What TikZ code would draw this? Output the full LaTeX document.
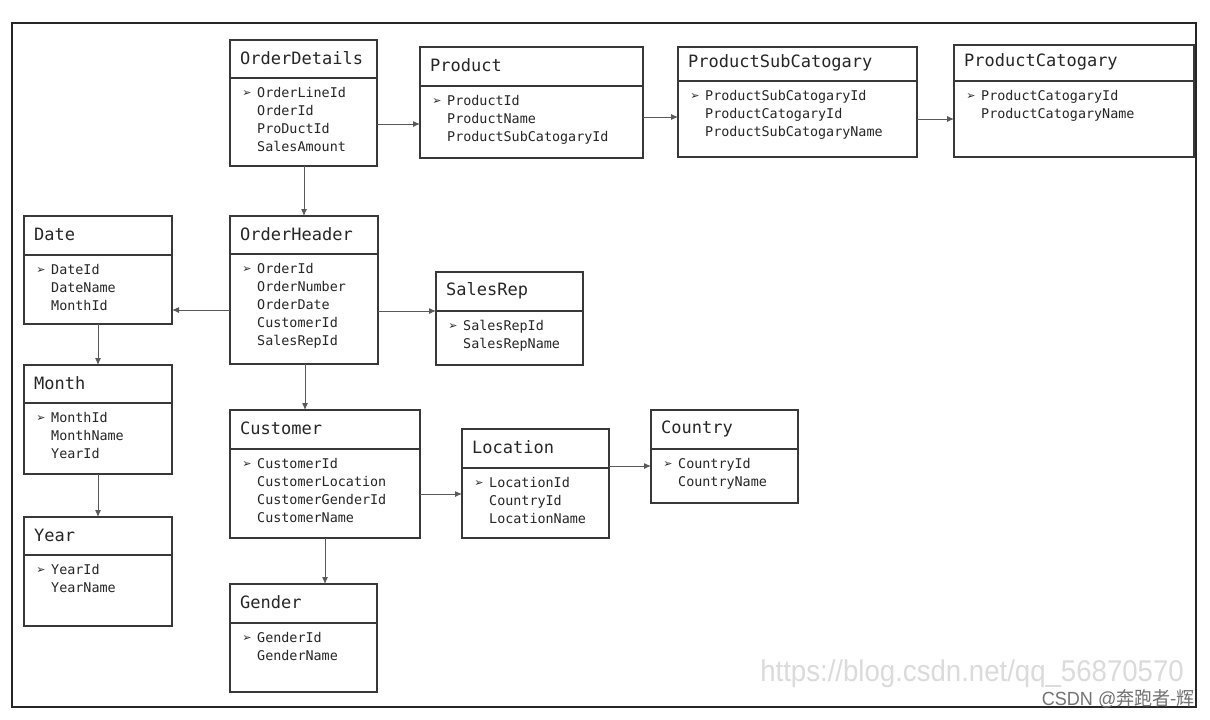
\documentclass[tikz,border=0pt]{standalone}
\usepackage{fontspec}
\setmonofont{DejaVu Sans Mono}
\setsansfont{Liberation Sans}
\newfontfamily\symfont{DejaVu Sans}
\newfontfamily\cjkfont{Noto Sans CJK SC}
\usetikzlibrary{arrows.meta}
\definecolor{linegray}{gray}{0.22}
\definecolor{textgray}{gray}{0.15}
\tikzset{
  tablebox/.style={draw=linegray, line width=1.4pt, inner sep=0pt, outer sep=0pt},
  divline/.style={draw=linegray, line width=1.4pt},
  titletext/.style={font=\ttfamily\fontsize{17}{20}\selectfont, text=textgray, anchor=west, inner sep=0pt},
  fieldtext/.style={font=\ttfamily\fontsize{13.4}{18}\selectfont, text=textgray, anchor=north west, inner sep=0pt, align=left},
  bullettext/.style={font=\symfont\fontsize{11}{12}\selectfont, text=textgray, inner sep=0pt},
  conn/.style={draw=black!65, line width=1pt, -{Latex[length=7pt,width=6pt]}},
  frame/.style={draw=black!85, line width=1.6pt}
}
% \erdtable{name}{x1}{y1}{x2}{y2}{ydiv}{title}{fields}
\newcommand\erdtable[8]{%
  \pgfmathsetmacro\tbW{#4-#2}%
  \pgfmathsetmacro\tbH{#5-#3}%
  \node[tablebox, minimum width=\tbW pt, minimum height=\tbH pt, anchor=north west] (#1) at (#2,#3) {};
  \draw[divline] (#2,#6) -- (#4,#6);
  \node[titletext] (#1-title) at ({#2+10},{(#3+#6)/2-1}) {#7};
  \node[bullettext] (#1-bul) at ({#2+17},{#6+16}) {➢};
  \node[fieldtext] (#1-fields) at ({#2+27},{#6+9.5}) {#8};
}
\begin{document}
\begin{tikzpicture}[x=1pt,y=-1pt]
\useasboundingbox (0,0) rectangle (1210,720);
\fill[white] (0,0) rectangle (1210,720);
\draw[frame] (12,23) rectangle (1196,707);

\erdtable{orderdetails}{230}{40}{377}{166}{78}{OrderDetails}{OrderLineId\\OrderId\\ProDuctId\\SalesAmount}
\erdtable{product}{420}{47}{643}{158}{86}{Product}{ProductId\\ProductName\\ProductSubCatogaryId}
\erdtable{productsub}{678}{47}{917}{157}{81}{ProductSubCatogary}{ProductSubCatogaryId\\ProductCatogaryId\\ProductSubCatogaryName}
\erdtable{productcat}{954}{45}{1194}{157}{81}{ProductCatogary}{ProductCatogaryId\\ProductCatogaryName}
\erdtable{date}{24}{216}{172}{324}{255}{Date}{DateId\\DateName\\MonthId}
\erdtable{orderheader}{230}{216}{378}{364}{254}{OrderHeader}{OrderId\\OrderNumber\\OrderDate\\CustomerId\\SalesRepId}
\erdtable{salesrep}{436}{272}{583}{365}{311}{SalesRep}{SalesRepId\\SalesRepName}
\erdtable{month}{24}{365}{172}{474}{403}{Month}{MonthId\\MonthName\\YearId}
\erdtable{customer}{230}{410}{420}{538}{449}{Customer}{CustomerId\\CustomerLocation\\CustomerGenderId\\CustomerName}
\erdtable{location}{462}{429}{609}{538}{468}{Location}{LocationId\\CountryId\\LocationName}
\erdtable{country}{651}{410}{798}{503}{449}{Country}{CountryId\\CountryName}
\erdtable{year}{24}{517}{172}{626}{555}{Year}{YearId\\YearName}
\erdtable{gender}{230}{584}{377}{692}{623}{Gender}{GenderId\\GenderName}

% connectors
\draw[conn] (orderdetails.south -| 304,0) -- (orderheader.north -| 304,0);
\draw[conn] (orderdetails.east |- 0,124) -- (product.west |- 0,124);
\draw[conn] (product.east |- 0,117) -- (productsub.west |- 0,117);
\draw[conn] (productsub.east |- 0,119) -- (productcat.west |- 0,119);
\draw[conn] (orderheader.west |- 0,310) -- (date.east |- 0,310);
\draw[conn] (orderheader.east |- 0,311) -- (salesrep.west |- 0,311);
\draw[conn] (orderheader.south -| 305,0) -- (customer.north -| 305,0);
\draw[conn] (date.south -| 98,0) -- (month.north -| 98,0);
\draw[conn] (month.south -| 98,0) -- (year.north -| 98,0);
\draw[conn] (customer.east |- 0,494) -- (location.west |- 0,494);
\draw[conn] (location.east |- 0,466) -- (country.west |- 0,466);
\draw[conn] (customer.south -| 325,0) -- (gender.north -| 325,0);

% watermarks
\node[anchor=east, inner sep=0pt, text=black!14, font=\sffamily\fontsize{30}{30}\selectfont] (wm) at (1184,674) {\scalebox{0.92}[1]{https://blog.csdn.net/qq\_56870570}};
\node[anchor=east, inner sep=0pt, text=black!55, font=\sffamily\fontsize{19}{19}\selectfont] (csdn) at (1195,699) {\scalebox{0.95}[1]{CSDN @{\cjkfont 奔跑者-辉}}};
\end{tikzpicture}
\end{document}
